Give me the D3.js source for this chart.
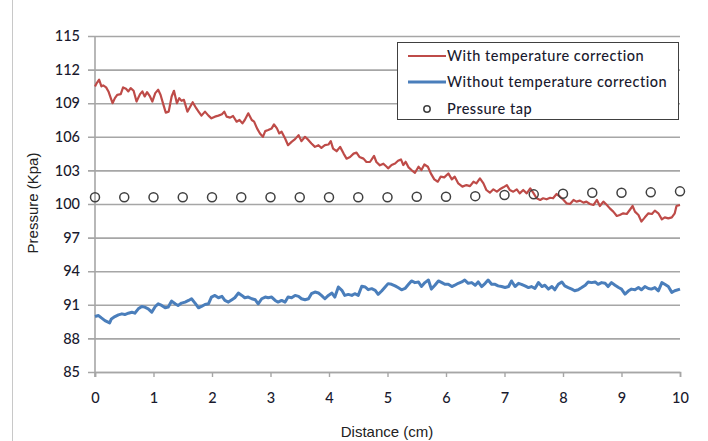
<!DOCTYPE html>
<html><head><meta charset="utf-8">
<script src="https://cdn.jsdelivr.net/npm/d3@7"></script>
<style>
html,body{margin:0;padding:0;background:#fff;}
svg{display:block;}
</style></head>
<body>
<svg id="chart" width="708" height="441"></svg>
<script>
// ---- data ----
const xTicks = [0,1,2,3,4,5,6,7,8,9,10];
const yTicks = [85,88,91,94,97,100,103,106,109,112,115];
const seriesNames = ["With temperature correction","Without temperature correction","Pressure tap"];

const withCorrDist = [0.00,0.03,0.07,0.11,0.14,0.19,0.23,0.27,0.30,0.34,0.38,0.44,0.48,0.53,0.57,0.61,0.66,0.71,0.77,0.81,0.85,0.89,0.94,0.98,1.03,1.08,1.12,1.17,1.21,1.26,1.31,1.35,1.40,1.44,1.48,1.52,1.58,1.62,1.67,1.73,1.77,1.82,1.88,1.94,1.99,2.05,2.11,2.17,2.21,2.25,2.31,2.36,2.42,2.47,2.52,2.56,2.62,2.68,2.72,2.77,2.82,2.87,2.91,2.96,3.02,3.06,3.11,3.15,3.19,3.25,3.30,3.36,3.42,3.48,3.53,3.59,3.65,3.70,3.76,3.82,3.87,3.93,3.99,4.03,4.07,4.13,4.19,4.25,4.30,4.36,4.42,4.47,4.52,4.59,4.64,4.70,4.77,4.81,4.87,4.93,4.99,
5.01,5.07,5.13,5.18,5.23,5.27,5.31,5.36,5.41,5.47,5.53,5.58,5.63,5.69,5.74,5.80,5.86,5.91,5.97,6.04,6.10,6.15,6.21,6.28,6.35,6.41,6.47,6.52,6.58,6.64,6.69,6.75,6.81,6.87,6.92,6.98,7.04,7.09,7.15,7.21,7.26,7.32,7.38,7.44,7.49,7.55,7.61,7.66,7.72,7.78,7.83,7.89,7.95,8.01,8.06,8.12,8.18,8.23,8.29,8.35,8.40,8.46,8.52,8.58,8.63,8.69,8.75,8.80,8.86,8.92,8.97,9.03,9.09,9.15,9.19,9.23,9.29,9.34,9.40,9.46,9.52,9.57,9.63,9.69,9.74,9.80,9.86,9.91,9.94,10.00];
const withCorrValues = [110.50,110.80,111.10,110.50,110.59,110.41,110.05,109.45,109.00,109.45,109.75,109.81,110.41,110.29,110.05,110.35,110.11,109.15,109.81,110.05,109.60,109.99,109.60,109.15,109.90,110.20,109.75,108.85,108.16,108.25,109.60,110.11,109.00,109.45,109.21,109.30,108.25,108.61,109.09,108.55,108.25,107.89,108.25,107.89,107.65,107.80,107.89,108.01,108.25,107.80,107.71,107.86,107.35,107.50,107.20,107.50,108.10,107.50,107.35,106.75,106.30,106.00,106.51,106.60,106.75,107.11,106.75,106.30,106.45,105.85,105.25,105.55,105.79,106.15,105.61,106.00,105.70,105.40,105.10,105.25,105.01,105.25,105.31,105.61,104.95,104.71,105.10,104.50,104.05,104.20,104.50,104.59,104.20,104.05,103.75,103.75,104.29,103.75,103.45,103.60,103.30,
103.18,103.48,103.62,103.86,103.98,103.48,103.77,103.27,103.03,102.79,103.33,103.03,103.53,103.33,102.73,102.20,101.99,102.44,102.38,102.73,102.20,102.44,101.84,101.55,101.69,101.60,101.99,101.84,102.29,101.84,101.25,101.01,101.31,101.10,101.31,101.49,101.69,101.25,101.10,101.31,100.95,101.25,100.95,101.40,101.01,100.51,100.36,100.51,100.42,100.56,100.51,100.89,100.65,100.36,100.06,100.00,100.36,100.21,100.30,100.12,100.21,100.00,99.91,100.36,99.82,100.21,99.91,99.61,99.32,98.93,99.02,99.17,99.11,99.53,99.82,99.32,99.02,98.43,98.81,99.17,99.11,99.41,99.17,98.63,98.81,98.72,98.81,99.17,99.82,99.91];

const withoutCorrDist = [0.00,0.06,0.11,0.17,0.25,0.28,0.34,0.40,0.46,0.51,0.57,0.63,0.68,0.74,0.80,0.85,0.91,0.97,1.03,1.08,1.14,1.20,1.25,1.31,1.37,1.42,1.48,1.54,1.60,1.65,1.71,1.77,1.82,1.88,1.94,1.99,2.05,2.11,2.17,2.22,2.28,2.34,2.39,2.45,2.51,2.56,2.62,2.68,2.74,2.79,2.85,2.91,2.96,3.02,3.08,3.13,3.19,3.25,3.30,3.36,3.42,3.48,3.53,3.59,3.65,3.70,3.76,3.82,3.87,3.93,3.99,4.05,4.10,4.16,4.22,4.27,4.33,4.39,4.44,4.50,4.56,4.62,4.67,4.73,4.79,4.84,4.90,4.96,5.01,
5.07,5.13,5.18,5.24,5.30,5.36,5.41,5.47,5.53,5.58,5.64,5.70,5.75,5.81,5.87,5.93,5.98,6.04,6.10,6.15,6.21,6.27,6.32,6.38,6.44,6.50,6.55,6.61,6.67,6.72,6.78,6.84,6.89,6.95,7.01,7.07,7.12,7.18,7.24,7.29,7.35,7.41,7.46,7.52,7.58,7.64,7.69,7.75,7.81,7.86,7.92,7.98,8.03,8.09,8.15,8.20,8.26,8.32,8.38,8.43,8.49,8.55,8.60,8.66,8.72,8.77,8.83,8.89,8.95,9.00,9.06,9.12,9.17,9.23,9.29,9.34,9.40,9.46,9.51,9.57,9.63,9.69,9.74,9.80,9.86,9.91,10.00];
const withoutCorrValues = [89.95,90.04,89.83,89.59,89.38,89.74,89.95,90.10,90.19,90.13,90.25,90.34,90.25,90.64,90.85,90.79,90.64,90.34,90.85,91.09,90.94,90.73,90.79,91.33,91.09,90.94,91.15,91.24,91.39,91.54,91.15,90.73,90.85,91.03,91.09,91.69,91.84,91.63,91.75,91.39,91.24,91.45,91.63,92.05,91.84,91.63,91.69,91.54,91.45,91.09,91.54,91.69,91.63,91.69,91.39,91.24,91.39,91.24,91.69,91.63,91.84,91.75,91.54,91.45,91.54,91.99,92.14,92.05,91.84,91.54,91.84,92.05,91.69,92.59,92.29,91.84,91.93,91.84,91.99,91.84,92.65,92.59,92.35,92.44,92.29,91.93,92.23,92.59,92.89,
92.83,92.69,92.54,92.34,92.46,92.83,93.13,92.98,93.04,92.63,92.98,93.21,92.40,92.75,93.13,92.98,92.83,92.83,92.63,92.75,92.92,93.04,93.21,92.92,92.98,92.75,93.04,92.63,92.92,93.21,92.83,92.83,92.69,92.63,92.54,92.63,93.13,92.63,92.92,92.83,92.69,92.54,92.63,92.46,92.98,92.63,92.75,92.40,92.63,92.34,92.83,93.04,92.69,92.54,92.40,92.25,92.34,92.54,92.75,93.04,92.98,93.04,92.83,92.98,92.92,92.63,92.98,92.75,92.54,92.40,91.96,92.25,92.40,92.34,92.54,92.34,92.63,92.46,92.40,92.54,92.25,92.98,92.83,92.63,92.11,92.25,92.40];

const tapDist = [0,0.5,1,1.5,2,2.5,3,3.5,4,4.5,5,5.5,6,6.5,7,7.5,8,8.5,9,9.5,10];
const tapValues = [100.6,100.6,100.6,100.6,100.6,100.6,100.6,100.6,100.6,100.6,100.6,100.65,100.65,100.7,100.8,100.86,100.92,101.0,101.0,101.04,101.13];

// ---- drawing ----
const svg = d3.select("#chart");
const W = 708, H = 441;
const x = d3.scaleLinear().domain([0,10]).range([95,680]);
const y = d3.scaleLinear().domain([85,115]).range([372,36]);

const tickFont = "Lato, 'Open Sans', sans-serif";
const titleFont = "'Liberation Sans', Arial, sans-serif";
const textColor = "#1a1a2e";

svg.append("rect").attr("width",W).attr("height",H).attr("fill","#fff");
svg.append("line").attr("x1",12.5).attr("x2",12.5).attr("y1",0).attr("y2",H)
  .attr("stroke","#c8c8c8").attr("stroke-width",1);

// gridlines
const grid = svg.append("g").attr("transform","translate(88,0)")
  .call(d3.axisLeft(y).tickValues(yTicks).tickSize(-(680-88)).tickFormat(""));
grid.select(".domain").remove();
grid.selectAll("line").attr("stroke","#a6a6a6").attr("stroke-width",1.6);

// y labels
const yl = svg.append("g").attr("transform","translate(95,0)")
  .call(d3.axisLeft(y).tickValues(yTicks).tickSize(0).tickPadding(15).tickFormat(d3.format("d")));
yl.select(".domain").remove();
yl.selectAll("text").attr("font-family",tickFont).attr("font-size",14.5)
  .attr("font-weight",500).attr("fill",textColor);

// x axis
const xa = svg.append("g").attr("transform","translate(0,372)")
  .call(d3.axisBottom(x).tickValues(xTicks).tickSize(5).tickPadding(16).tickFormat(d3.format("d")));
xa.select(".domain").attr("stroke","#a6a6a6").attr("stroke-width",1.6);
xa.selectAll("line").attr("stroke","#a6a6a6").attr("stroke-width",1.4);
xa.selectAll("text").attr("font-family",tickFont).attr("font-size",14.5)
  .attr("font-weight",500).attr("fill",textColor);

// y axis line
svg.append("line").attr("x1",x(0)).attr("x2",x(0)).attr("y1",y(115)).attr("y2",y(85)+5)
  .attr("stroke","#a6a6a6").attr("stroke-width",1.6);

// axis titles
svg.append("text").attr("x",387).attr("y",437).attr("text-anchor","middle")
  .attr("font-family",titleFont).attr("font-size",15).attr("fill","#222").text("Distance (cm)");
svg.append("text").attr("transform","translate(38,203) rotate(-90)").attr("text-anchor","middle")
  .attr("font-family",titleFont).attr("font-size",15).attr("fill","#222").text("Pressure (Kpa)");

// lines
const lineGen = d3.line().x(d=>x(d[0])).y(d=>y(d[1]));
const redData = withCorrDist.map((d,i)=>[d,withCorrValues[i]]);
const blueData = withoutCorrDist.map((d,i)=>[d,withoutCorrValues[i]]);
svg.append("path").datum(blueData).attr("d",lineGen).attr("fill","none")
  .attr("stroke","#4a7ebb").attr("stroke-width",3).attr("stroke-linejoin","round");
svg.append("path").datum(redData).attr("d",lineGen).attr("fill","none")
  .attr("stroke","#be4b48").attr("stroke-width",2.2).attr("stroke-linejoin","round");

// pressure taps
svg.append("g").selectAll("circle").data(tapDist.map((d,i)=>[d,tapValues[i]])).join("circle")
  .attr("cx",d=>x(d[0])).attr("cy",d=>y(d[1])).attr("r",4.5)
  .attr("fill","none").attr("stroke","#404040").attr("stroke-width",1.5);

// legend
const lg = svg.append("g");
lg.append("rect").attr("x",397.5).attr("y",42.5).attr("width",281).attr("height",77)
  .attr("fill","#fff").attr("stroke","#404040").attr("stroke-width",1);
const legRows = [
  {name:seriesNames[0], type:"line", color:"#be4b48", w:2, yy:56},
  {name:seriesNames[1], type:"line", color:"#4a7ebb", w:3, yy:82},
  {name:seriesNames[2], type:"circle", color:"#404040", w:1.5, yy:109}
];
legRows.forEach(r=>{
  if(r.type==="line"){
    lg.append("line").attr("x1",408).attr("x2",446).attr("y1",r.yy).attr("y2",r.yy)
      .attr("stroke",r.color).attr("stroke-width",r.w);
  } else {
    lg.append("circle").attr("cx",427).attr("cy",r.yy).attr("r",3.2)
      .attr("fill","none").attr("stroke",r.color).attr("stroke-width",r.w);
  }
  lg.append("text").attr("x",447).attr("y",r.yy+5).attr("font-family",tickFont)
    .attr("font-size",14.5).attr("font-weight",500).attr("letter-spacing",0.5)
    .attr("fill",textColor).text(r.name);
});
</script>
</body></html>
